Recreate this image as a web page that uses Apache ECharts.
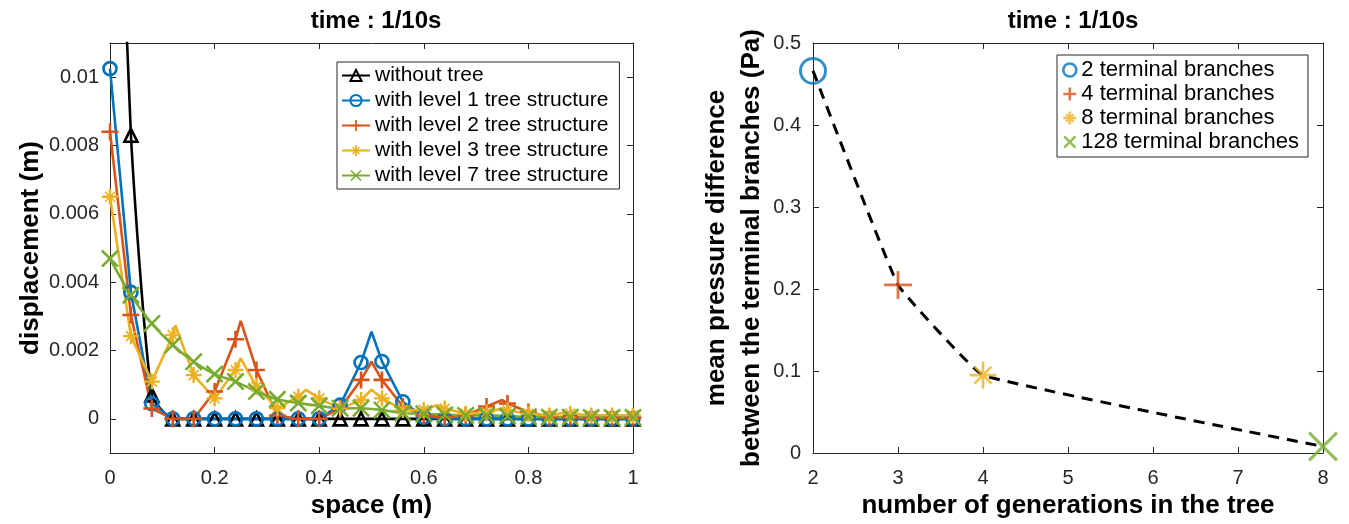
<!DOCTYPE html>
<html><head><meta charset="utf-8">
<script src="https://cdn.jsdelivr.net/npm/echarts@6/dist/echarts.min.js"></script>
<style>html,body{margin:0;padding:0;background:#fff}#c{width:1349px;height:524px}</style>
</head><body><div id="c"></div>
<script>
// ---------- data: left panel (displacement vs space) ----------
const spaceX = [0,0.04,0.08,0.12,0.16,0.2,0.24,0.28,0.32,0.36,0.4,0.44,0.48,0.52,0.56,0.6,0.64,0.68,0.72,0.76,0.8,0.84,0.88,0.92,0.96,1];
const noTree = [0.024,0.0083,0.0007,0,0,0,0,0,0,0,0,0,0,0,0,0,0,0,0,0,0,0,0,0,0,0];
const level1 = [0.01025,0.0037,0.00044,0,0,0,0,0,0,0,0,0.0004,0.00165,0.00168,0.0005,0.00005,0,0,0,0,0,0,0,0,0,0];
const level1PeakX = [0.5];
const level1PeakY = [0.00255];
const level2 = [0.0084,0.00304,0.0003,0,0,0.0008,0.00233,0.00143,0.0001,0,0,0.0003,0.00114,0.00114,0.00036,0.0001,0.00005,0.0001,0.00036,0.00045,0.0002,0.00005,0.00005,0.00003,0.00003,0.00003];
const level2PeakX = [0.25,0.5,0.75];
const level2PeakY = [0.00287,0.00167,0.00055];
const level3 = [0.0065,0.00242,0.00109,0.00245,0.00128,0.0006,0.00143,0.00094,0.00031,0.00065,0.0006,0.0003,0.00055,0.0006,0.00026,0.00026,0.0003,0.00015,0.0002,0.00025,0.00015,0.0001,0.00015,0.0001,0.0001,0.0001];
const level3PeakX = [0.125,0.25,0.375,0.5,0.625,0.75,0.875];
const level3PeakY = [0.00274,0.00177,0.00085,0.00085,0.0004,0.0003,0.0002];
const level7 = [0.00469,0.00362,0.00279,0.00216,0.00167,0.00131,0.00109,0.0008,0.00057,0.00046,0.00038,0.00031,0.00031,0.00026,0.00017,0.00015,0.00012,0.0001,0.0001,0.00008,0.00006,0.00005,0.00005,0.00004,0.00004,0.00004];
const leftNames = ['without tree','with level 1 tree structure','with level 2 tree structure','with level 3 tree structure','with level 7 tree structure'];
const leftYTicks = [0,0.002,0.004,0.006,0.008,0.01];

// ---------- data: right panel ----------
const generations = [2,3,4,8];
const pressureDiff = [0.466,0.205,0.095,0.008];
const rightNames = ['2 terminal branches','4 terminal branches','8 terminal branches','128 terminal branches'];

// ---------- styling ----------
const FONT = 'Liberation Sans, Arial, Helvetica, sans-serif';
const C = {k:'#000000', b:'#0072BD', o:'#D95319', y:'#EDB120', g:'#77AC30'};
const AX = '#262626';
const PLUS = 'path://M8.5,0h3v8.5h8.5v3h-8.5v8.5h-3v-8.5h-8.5v-3h8.5z';
const XS = 'path://M0,2L2,0L20,18L18,20ZM18,0L20,2L2,20L0,18Z';
const AST = 'path://M8.5,0h3v8.5h8.5v3h-8.5v8.5h-3v-8.5h-8.5v-3h8.5zM3,4.5L4.5,3L17,15.5L15.5,17ZM15.5,3L17,4.5L4.5,17L3,15.5Z';
const PLUS_L = 'path://M8,0h4v8h8v4h-8v8h-4v-8h-8v-4h8z';
const XS_L = 'path://M0,2.8L2.8,0L20,17.2L17.2,20ZM17.2,0L20,2.8L2.8,20L0,17.2Z';
const AST_L = 'path://M8,0h4v8h8v4h-8v8h-4v-8h-8v-4h8zM3,5.5L5.5,3L17,14.5L14.5,17ZM14.5,3L17,5.5L5.5,17L3,14.5Z';
const PLUS_T = 'path://M9,0h2v9h9v2h-9v9h-2v-9h-9v-2h9z';
const XS_T = 'path://M0,1.5L1.5,0L20,18.5L18.5,20ZM18.5,0L20,1.5L1.5,20L0,18.5Z';
const AST_T = 'path://M9,0h2v9h9v2h-9v9h-2v-9h-9v-2h9zM3,4.4L4.4,3L17,15.6L15.6,17ZM15.6,3L17,4.4L4.4,17L3,15.6Z';

function build(xs, ys, px, py) {
  const pts = xs.map((x, i) => ({value: [x, ys[i]]}));
  (px || []).forEach((x, i) => pts.push({value: [x, py[i]], symbol: 'none'}));
  pts.sort((a, b) => a.value[0] - b.value[0]);
  return pts;
}

function lineSeries(name, data, color, symbol, size, hollow, smooth) {
  return {
    type: 'line', name, data, xAxisIndex: 0, yAxisIndex: 0,
    symbol, symbolSize: size, showAllSymbol: true, smooth: smooth || false,
    clip: true, animation: false,
    lineStyle: {color, width: 2.6},
    itemStyle: hollow ? {color: 'rgba(0,0,0,0)', borderColor: color, borderWidth: 2.6}
                      : {color, borderColor: color, borderWidth: 0},
    emphasis: {disabled: true}
  };
}

function axisCommon(extra) {
  return Object.assign({
    axisLine: {show: true, onZero: false, lineStyle: {color: AX, width: 1}},
    axisTick: {show: true, inside: true, length: 6, lineStyle: {color: AX}},
    splitLine: {show: false},
    axisLabel: {color: AX, fontSize: 20, fontFamily: FONT}
  }, extra);
}

const NAME_STYLE = {fontSize: 26, fontWeight: 'bold', color: '#000', fontFamily: FONT};
const TICK_STYLE = {color: AX, fontSize: 20, fontFamily: FONT};

const chart = echarts.init(document.getElementById('c'), null, {renderer: 'canvas'});
const option = {
  backgroundColor: '#fff',
  animation: false,
  textStyle: {fontFamily: FONT},
  title: [
    {text: 'time : 1/10s', left: 371, top: 4, textAlign: 'center',
     textStyle: {fontSize: 24, fontWeight: 'bold', color: '#000', fontFamily: FONT}},
    {text: 'time : 1/10s', left: 1068, top: 4, textAlign: 'center',
     textStyle: {fontSize: 24, fontWeight: 'bold', color: '#000', fontFamily: FONT}}
  ],
  grid: [
    {left: 110, top: 43, width: 523, height: 412, containLabel: false},
    {left: 813, top: 43, width: 510, height: 410, containLabel: false}
  ],
  xAxis: [
    axisCommon({type: 'value', gridIndex: 0, min: 0, max: 1, interval: 0.2, position: 'bottom',
      name: 'space (m)', nameLocation: 'middle', nameGap: 40, nameTextStyle: NAME_STYLE,
      axisLabel: Object.assign({margin: 15}, TICK_STYLE)}),
    axisCommon({type: 'value', gridIndex: 0, min: 0, max: 1, interval: 0.2, position: 'top',
      axisLabel: {show: false}}),
    axisCommon({type: 'value', gridIndex: 1, min: 2, max: 8, interval: 1, position: 'bottom',
      name: 'number of generations in the tree', nameLocation: 'middle', nameGap: 40, nameTextStyle: NAME_STYLE,
      axisLabel: Object.assign({margin: 15}, TICK_STYLE)}),
    axisCommon({type: 'value', gridIndex: 1, min: 2, max: 8, interval: 1, position: 'top',
      axisLabel: {show: false}})
  ],
  yAxis: [
    axisCommon({type: 'value', gridIndex: 0, min: -0.001, max: 0.011, splitNumber: 6, position: 'left',
      name: 'displacement (m)', nameLocation: 'middle', nameGap: 66, nameRotate: 90, nameTextStyle: NAME_STYLE,
      axisLabel: Object.assign({margin: 11, showMinLabel: false, showMaxLabel: false,
        formatter: v => leftYTicks.some(t => Math.abs(t - v) < 1e-9) ? String(+v.toFixed(4)) : ''}, TICK_STYLE)}),
    axisCommon({type: 'value', gridIndex: 0, min: -0.001, max: 0.011, splitNumber: 6, position: 'right',
      axisLabel: {show: false}}),
    axisCommon({type: 'value', gridIndex: 1, min: 0, max: 0.5, interval: 0.1, position: 'left',
      name: 'mean pressure difference\nbetween the terminal branches (Pa)', nameLocation: 'middle', nameGap: 43, nameRotate: 90,
      nameTextStyle: Object.assign({lineHeight: 35}, NAME_STYLE),
      axisLabel: Object.assign({margin: 12}, TICK_STYLE)}),
    axisCommon({type: 'value', gridIndex: 1, min: 0, max: 0.5, interval: 0.1, position: 'right',
      axisLabel: {show: false}})
  ],
  legend: [
    {data: leftNames, left: 337, top: 62, orient: 'vertical', itemGap: 4, itemWidth: 28, itemHeight: 14,
     textStyle: {fontSize: 21, lineHeight: 21, color: '#000', fontFamily: FONT}, borderColor: AX, borderWidth: 1,
     padding: [3, 11, 3, 4], backgroundColor: '#fff', selectedMode: false},
    {data: [
       {name: rightNames[0], icon: 'circle', itemStyle: {color: 'rgba(0,0,0,0)', borderColor: C.b, borderWidth: 2.6}},
       {name: rightNames[1], icon: PLUS_L},
       {name: rightNames[2], icon: AST_L},
       {name: rightNames[3], icon: XS_L}],
     left: 1057, top: 55, orient: 'vertical', itemGap: 2, itemWidth: 13, itemHeight: 13,
     textStyle: {fontSize: 22, lineHeight: 22, color: '#000', fontFamily: FONT}, borderColor: AX, borderWidth: 1,
     padding: [4, 9, 4, 5], backgroundColor: '#fff', selectedMode: false}
  ],
  series: [
    lineSeries(leftNames[0], build(spaceX, noTree), C.k, 'triangle', 13, true, 0.2),
    lineSeries(leftNames[1], build(spaceX, level1, level1PeakX, level1PeakY), C.b, 'circle', 13, true),
    lineSeries(leftNames[2], build(spaceX, level2, level2PeakX, level2PeakY), C.o, PLUS, 17, false),
    lineSeries(leftNames[3], build(spaceX, level3, level3PeakX, level3PeakY), C.y, AST, 16, false),
    lineSeries(leftNames[4], build(spaceX, level7), C.g, XS, 18, false, 0.3),
    {type: 'line', name: 'fit', xAxisIndex: 2, yAxisIndex: 2, data: generations.map((g, i) => [g, pressureDiff[i]]),
     symbol: 'none', smooth: 0.08, lineStyle: {color: '#000', width: 3, type: [11, 8]}, z: 1, emphasis: {disabled: true}},
    {type: 'scatter', name: rightNames[0], xAxisIndex: 2, yAxisIndex: 2, data: [[generations[0], pressureDiff[0]]],
     symbol: 'circle', symbolSize: 25, clip: false, itemStyle: {color: 'rgba(0,0,0,0)', borderColor: C.b, borderWidth: 3}, z: 3},
    {type: 'scatter', name: rightNames[1], xAxisIndex: 2, yAxisIndex: 2, data: [[generations[1], pressureDiff[1]]],
     symbol: PLUS_T, symbolSize: 28, clip: false, itemStyle: {color: C.o}, z: 3},
    {type: 'scatter', name: rightNames[2], xAxisIndex: 2, yAxisIndex: 2, data: [[generations[2], pressureDiff[2]]],
     symbol: AST_T, symbolSize: 27, clip: false, itemStyle: {color: C.y}, z: 3},
    {type: 'scatter', name: rightNames[3], xAxisIndex: 2, yAxisIndex: 2, data: [[generations[3], pressureDiff[3]]],
     symbol: XS_T, symbolSize: 30, clip: false, itemStyle: {color: C.g}, z: 3}
  ]
};
chart.setOption(option);
</script>
</body></html>
